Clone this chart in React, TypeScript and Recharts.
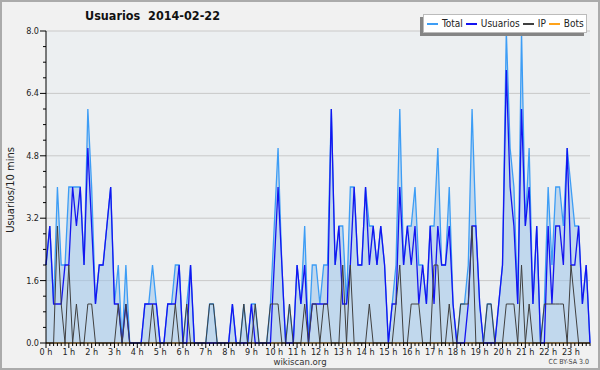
import React from "react";
import {
  Area,
  CartesianGrid,
  ComposedChart,
  Legend,
  Line,
  XAxis,
  YAxis
} from "recharts";

// one value every 10 minutes, 144 slots for the day
const usuarios = [
  2, 3, 1, 1, 1, 2, 2, 4, 3, 4, 2, 5,
  3, 1, 2, 2, 3, 4, 1, 1, 0, 1, 0, 0,
  0, 0, 1, 1, 1, 1, 0, 0, 1, 1, 1, 2,
  0, 0, 2, 0, 0, 0, 0, 0, 0, 0, 0, 0,
  0, 1, 0, 0, 0, 0, 1, 0, 0, 0, 0, 0,
  2, 4, 2, 0, 0, 0, 2, 1, 2, 0, 1, 1,
  1, 1, 1, 6, 2, 3, 1, 1, 2, 4, 2, 2,
  4, 2, 3, 2, 3, 2, 0, 1, 1, 4, 2, 3,
  2, 3, 1, 2, 1, 3, 1, 3, 2, 2, 3, 1,
  0, 0, 0, 1, 3, 3, 1, 0, 0, 0, 0, 1,
  2, 7, 4, 3, 1, 6, 3, 4, 1, 3, 0, 0,
  3, 1, 3, 3, 2, 5, 2, 2, 3, 1, 2, 0
];

const ip = [
  0, 0, 0, 3, 1, 0, 2, 0, 1, 0, 0, 1,
  1, 0, 0, 0, 0, 0, 0, 1, 0, 1, 0, 0,
  0, 0, 0, 0, 1, 0, 0, 0, 0, 0, 1, 0,
  0, 1, 0, 0, 0, 0, 0, 1, 1, 0, 0, 0,
  0, 0, 0, 0, 1, 0, 0, 1, 0, 0, 0, 1,
  1, 1, 0, 0, 1, 0, 0, 0, 1, 0, 1, 1,
  0, 1, 1, 0, 0, 0, 2, 0, 2, 0, 0, 0,
  0, 1, 0, 0, 0, 0, 0, 0, 1, 2, 0, 0,
  1, 1, 1, 0, 0, 0, 2, 2, 0, 0, 1, 0,
  0, 1, 1, 1, 3, 0, 0, 0, 1, 1, 0, 0,
  0, 1, 1, 1, 0, 2, 0, 1, 0, 0, 0, 1,
  1, 1, 1, 1, 1, 0, 2, 1, 0, 0, 0, 0
];

const total = [
  2, 3, 1, 4, 2, 2, 4, 4, 4, 4, 2, 6,
  4, 1, 2, 2, 3, 4, 1, 2, 0, 2, 0, 0,
  0, 0, 1, 1, 2, 1, 0, 0, 1, 1, 2, 2,
  0, 1, 2, 0, 0, 0, 0, 1, 1, 0, 0, 0,
  0, 1, 0, 0, 1, 0, 1, 1, 0, 0, 0, 1,
  3, 5, 2, 0, 1, 0, 2, 1, 3, 0, 2, 2,
  1, 2, 2, 6, 2, 3, 3, 1, 4, 4, 2, 2,
  4, 3, 3, 2, 3, 2, 0, 1, 2, 6, 2, 3,
  3, 4, 2, 2, 1, 3, 3, 5, 2, 2, 4, 1,
  0, 1, 1, 2, 6, 3, 1, 0, 1, 1, 0, 1,
  2, 8, 5, 4, 1, 8, 3, 5, 1, 3, 0, 1,
  4, 2, 4, 4, 3, 5, 4, 3, 3, 1, 2, 0
];

const bots = [
  0, 0, 0, 0, 0, 0, 0, 0, 0, 0, 0, 0,
  0, 0, 0, 0, 0, 0, 0, 0, 0, 0, 0, 0,
  0, 0, 0, 0, 0, 0, 0, 0, 0, 0, 0, 0,
  0, 0, 0, 0, 0, 0, 0, 0, 0, 0, 0, 0,
  0, 0, 0, 0, 0, 0, 0, 0, 0, 0, 0, 0,
  0, 0, 0, 0, 0, 0, 0, 0, 0, 0, 0, 0,
  0, 0, 0, 0, 0, 0, 0, 0, 0, 0, 0, 0,
  0, 0, 0, 0, 0, 0, 0, 0, 0, 0, 0, 0,
  0, 0, 0, 0, 0, 0, 0, 0, 0, 0, 0, 0,
  0, 0, 0, 0, 0, 0, 0, 0, 0, 0, 0, 0,
  0, 0, 0, 0, 0, 0, 0, 0, 0, 0, 0, 0,
  0, 0, 0, 0, 0, 0, 0, 0, 0, 0, 0, 0
];

const hourLabels = [
  "0 h", "1 h", "2 h", "3 h", "4 h", "5 h", "6 h", "7 h", "8 h", "9 h", "10 h", "11 h",
  "12 h", "13 h", "14 h", "15 h", "16 h", "17 h", "18 h", "19 h", "20 h", "21 h", "22 h", "23 h"
];

const yTicks = [0, 0.4, 0.8, 1.2, 1.6, 2, 2.4, 2.8, 3.2, 3.6, 4, 4.4, 4.8, 5.2, 5.6, 6, 6.4, 6.8, 7.2, 7.6, 8];
const yLabels = ["0.0", "1.6", "3.2", "4.8", "6.4", "8.0"];
const gridValues = [1.6, 3.2, 4.8, 6.4, 8];

const series = [
  { key: "total", name: "Total", color: "#3d9df5" },
  { key: "usuarios", name: "Usuarios", color: "#1414f0" },
  { key: "ip", name: "IP", color: "#404040" },
  { key: "bots", name: "Bots", color: "#ffa31a" }
];

const data = usuarios.map((u, i) => ({
  i,
  total: total[i],
  usuarios: u,
  ip: ip[i],
  bots: bots[i]
}));

const xTicks = data.map((d) => d.i);

const FONT = "'DejaVu Sans Condensed', 'DejaVu Sans', sans-serif";

function HourTick({ x, y, payload }: any) {
  const v = payload.value;
  const major = v % 6 === 0;
  return (
    <g>
      <line x1={x} x2={x} y1={y} y2={y + (major ? 5 : 3)} stroke="#000" />
      {major && (
        <text x={x} y={y + 12} textAnchor="middle" fontSize={9} fill="#222" fontFamily={FONT}>
          {hourLabels[v / 6]}
        </text>
      )}
    </g>
  );
}

function ValueTick({ x, y, index }: any) {
  const major = index % 4 === 0;
  return (
    <g>
      <line x1={x - (major ? 6 : 3)} x2={x} y1={y} y2={y} stroke="#000" />
      {major && (
        <text x={x - 7} y={y + 3} textAnchor="end" fontSize={9} fill="#222" fontFamily={FONT}>
          {yLabels[index / 4]}
        </text>
      )}
    </g>
  );
}

function LegendBox() {
  return (
    <div
      style={{
        display: "flex",
        alignItems: "center",
        height: 17,
        padding: "0 2px 0 3px",
        background: "#fff",
        border: "1px solid #bbb",
        boxShadow: "-3px 3px 0 #858585",
        fontFamily: FONT,
        fontSize: 10,
        color: "#222"
      }}
    >
      {series.map((s, k) => (
        <span key={s.key} style={{ display: "flex", alignItems: "center", marginRight: k === series.length - 1 ? 0 : 3 }}>
          <span style={{ display: "inline-block", width: 11, height: 2, background: s.color, marginRight: 4 }} />
          {s.name}
        </span>
      ))}
    </div>
  );
}

export default function App() {
  return (
    <div style={{ position: "relative", width: 600, height: 370, background: "#f1f1f1", fontFamily: FONT }}>
      <style>{"body{margin:0}"}</style>
      <ComposedChart
        width={600}
        height={370}
        data={data}
        margin={{ top: 31, right: 10, bottom: 7, left: 6 }}
      >
        <CartesianGrid
          vertical={false}
          horizontalValues={gridValues}
          stroke="#c9c9c9"
          fill="#eceff1"
        />
        <XAxis
          dataKey="i"
          type="number"
          domain={[0, 143]}
          ticks={xTicks}
          interval={0}
          height={20}
          tickSize={0}
          tickMargin={0}
          tickLine={false}
          tick={HourTick}
          axisLine={{ stroke: "#000" }}
        />
        <YAxis
          type="number"
          domain={[0, 8]}
          ticks={yTicks}
          interval={0}
          width={40}
          tickSize={0}
          tickMargin={0}
          tickLine={false}
          tick={ValueTick}
          axisLine={{ stroke: "#000" }}
        />
        <Line
          type="linear"
          dataKey="bots"
          stroke="#ffa31a"
          strokeWidth={1.2}
          dot={false}
          activeDot={false}
          isAnimationActive={false}
        />
        <Area
          type="linear"
          dataKey="total"
          stroke="#3d9df5"
          strokeWidth={1.3}
          fill="#9fc5ea"
          fillOpacity={0.55}
          dot={false}
          activeDot={false}
          isAnimationActive={false}
        />
        <Line
          type="linear"
          dataKey="usuarios"
          stroke="#1414f0"
          strokeWidth={1.3}
          dot={false}
          activeDot={false}
          isAnimationActive={false}
        />
        <Line
          type="linear"
          dataKey="ip"
          stroke="#404040"
          strokeWidth={1}
          dot={false}
          activeDot={false}
          isAnimationActive={false}
        />
        <Legend
          content={LegendBox}
          layout="horizontal"
          align="center"
          verticalAlign="middle"
          wrapperStyle={{ top: 14, left: 423, width: "auto", height: "auto" }}
        />
      </ComposedChart>
      <div style={{ position: "absolute", left: 85, top: 9, fontSize: 12.5, fontWeight: "bold", color: "#111", whiteSpace: "pre", lineHeight: "14px" }}>
        {"Usuarios  2014-02-22"}
      </div>
      <div
        style={{
          position: "absolute",
          left: 10,
          top: 190,
          transform: "translate(-50%, -50%) rotate(-90deg)",
          fontSize: 11,
          color: "#222",
          whiteSpace: "nowrap"
        }}
      >
        Usuarios/10 mins
      </div>
      <div style={{ position: "absolute", left: 0, width: 600, top: 356, lineHeight: "11px", textAlign: "center", fontSize: 9.5, color: "#333" }}>
        wikiscan.org
      </div>
      <div style={{ position: "absolute", right: 11, top: 358, lineHeight: "8px", fontSize: 7, color: "#444" }}>
        CC BY-SA 3.0
      </div>
      <div style={{ position: "absolute", inset: 0, border: "2px solid #ababab", pointerEvents: "none" }} />
    </div>
  );
}
